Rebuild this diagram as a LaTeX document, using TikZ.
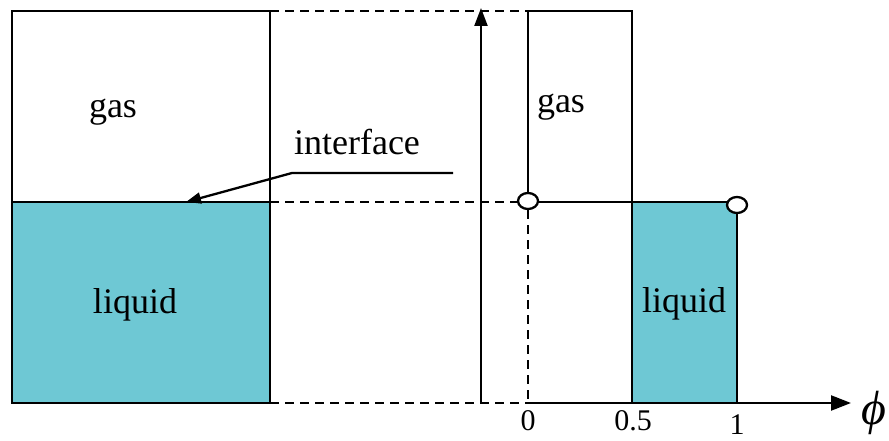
\documentclass[tikz,border=0pt]{standalone}
\usepackage{fontspec}
\setmainfont{Liberation Serif}
\usetikzlibrary{arrows.meta,shapes.geometric}
\definecolor{liq}{RGB}{110,200,212}
\begin{document}
\begin{tikzpicture}[x=1pt,y=-1pt,
  ln/.style={line width=2.3pt},
  dsh/.style={line width=2pt,dash pattern=on 9pt off 6pt},
  lbl/.style={font=\fontsize{36}{40}\selectfont,inner sep=0pt,anchor=base},
  tick/.style={font=\fontsize{30}{33}\selectfont,inner sep=0pt,anchor=base},
  hole/.style={ellipse,draw,line width=2.3pt,fill=white,minimum width=20pt,minimum height=16pt,inner sep=0pt}]
\useasboundingbox (0,0) rectangle (889,441);
% left box
\fill[liq] (12,202) rectangle (270,403);
\draw[ln] (12,11) rectangle (270,403);
\draw[ln] (12,202) -- (270,202);
\node[lbl] (gasL) at (113,118) {gas};
\node[lbl] (liqL) at (135,313) {liquid};
% dashed guides
\draw[dsh] (270,11) -- (528,11);
\draw[dsh] (270,202) -- (518,202);
\draw[dsh] (270,403) -- (528,403);
% vertical axis
\draw[ln,-{Triangle[length=18pt,width=13pt]}] (481,403) -- (481,8);
% interface label
\node[lbl] (itf) at (357,155) {interface};
\coordinate (k1) at (453,173);
\coordinate (k2) at (292,173);
\coordinate (tip) at (186,202);
\draw[ln,-{Triangle[length=15pt,width=11pt]}] (k1) -- (k2) -- (tip);
% right graph
\fill[liq] (632,202) rectangle (737,403);
\draw[ln] (528,193) -- (528,11) -- (632,11) -- (632,403);
\draw[ln] (528,202) -- (737,202);
\draw[ln] (737,212) -- (737,403);
\draw[dsh] (528,210) -- (528,403);
\draw[ln,-{Triangle[length=20pt,width=15pt]}] (528,403) -- (851,403);
\node[hole] (c0) at (528,201) {};
\node[hole] (c1) at (737,205) {};
\node[lbl] (gasR) at (561,113) {gas};
\node[lbl] (liqR) at (684,312) {liquid};
\node[tick] (t0) at (528,430) {0};
\node[tick] (t5) at (633,430) {0.5};
\node[tick] (t1) at (737,434) {1};
\node[font=\fontsize{48}{52}\selectfont\itshape,inner sep=0pt,anchor=base] (phi) at (874,424) {ϕ};
\end{tikzpicture}
\end{document}
